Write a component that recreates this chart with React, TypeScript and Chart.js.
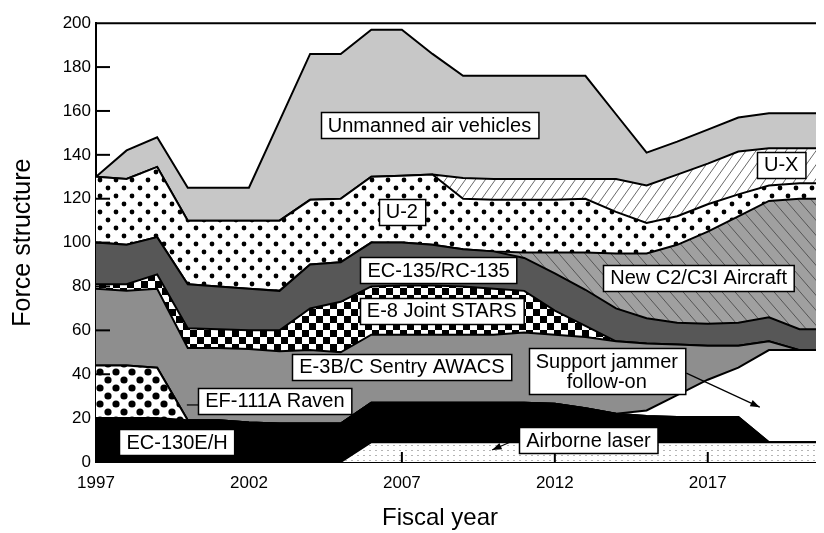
import React, { useEffect, useRef } from 'react';
import { Chart, registerables } from 'chart.js';

Chart.register(...registerables);

const years = [1997, 1998, 1999, 2000, 2001, 2002, 2003, 2004, 2005, 2006, 2007, 2008, 2009, 2010, 2011, 2012, 2013, 2014, 2015, 2016, 2017, 2018, 2019, 2020, 2021];
const tickYears = [1997, 2002, 2007, 2012, 2017];
const yTickValues = [0, 20, 40, 60, 80, 100, 120, 140, 160, 180, 200];

const airborneLaser = [0, 0, 0, 0, 0, 0, 0, 0, 0, 9, 9, 9, 9, 9, 9, 9, 9, 9, 9, 9, 9, 9, 9, 9, 9];
const ec130 = [20, 20, 20, 19, 19, 18, 17.5, 17.5, 17.5, 18, 18, 18, 18, 18, 18, 17.5, 15.5, 13, 12, 11.5, 11.5, 11.5, 0, 0, 0];
const ef111 = [24, 24, 23, 0, 0, 0, 0, 0, 0, 0, 0, 0, 0, 0, 0, 0, 0, 0, 0, 0, 0, 0, 0, 0, 0];
const jammer = [0, 0, 0, 0, 0, 0, 0, 0, 0, 0, 0, 0, 0, 0, 0, 0, 0, 0, 2.5, 10, 17, 22.5, 42, 42, 42];
const e3 = [35, 34, 36, 33, 33, 33.5, 33, 33.5, 32.5, 31, 31, 31, 31, 31, 32, 31.5, 32.5, 33, 30.5, 23, 15.5, 10, 4, 0, 0];
const e8 = [2, 3, 6.5, 9, 8.5, 8.5, 9.5, 19, 23, 22, 22.5, 22.5, 22, 21, 19, 11, 5, 0, 0, 0, 0, 0, 0, 0, 0];
const ec135 = [19, 18, 17, 20, 19.5, 19, 18, 20, 18, 20, 19.5, 18.5, 17, 17, 15, 17, 16.5, 15, 11.5, 10, 10, 10.5, 11, 9.5, 9.5];
const c2 = [0, 0, 0, 0, 0, 0, 0, 0, 0, 0, 0, 0, 0, 0, 2.5, 9.5, 17, 25, 29.5, 35.5, 42, 48.5, 53, 59.5, 59.5];
const u2 = [30, 30, 32, 29, 30, 31, 32, 29.5, 29, 30, 30.5, 32, 23, 23.5, 24, 24, 24.5, 19, 14, 13, 12.5, 10, 7, 7, 7];
const ux = [0, 0, 0, 0, 0, 0, 0, 0, 0, 0, 0, 0, 9.5, 9.5, 9.5, 9.5, 9, 15, 17, 19, 18.5, 19.5, 17, 16, 16];
const uav = [0, 13, 13.5, 15, 15, 15, 45.5, 66.5, 66, 67, 66.5, 55, 46.5, 47, 47, 47, 47, 29.5, 15, 15, 15.5, 15.5, 16, 16, 16];

const seriesNames = ['Airborne laser', 'EC-130E/H', 'EF-111A Raven', 'Support jammer follow-on', 'E-3B/C Sentry AWACS', 'E-8 Joint STARS', 'EC-135/RC-135', 'New C2/C3I Aircraft', 'U-2', 'U-X', 'Unmanned air vehicles'];
const seriesValues = [airborneLaser, ec130, ef111, jammer, e3, e8, ec135, c2, u2, ux, uav];

const labelBoxes = [
  { lines: ['Unmanned air vehicles'], x: 2007.9, y: 153.5 },
  { lines: ['U-2'], x: 2007.0, y: 114 },
  { lines: ['U-X'], x: 2019.4, y: 135.5 },
  { lines: ['EC-135/RC-135'], x: 2008.2, y: 87.5 },
  { lines: ['New C2/C3I Aircraft'], x: 2016.7, y: 84 },
  { lines: ['E-8 Joint STARS'], x: 2008.3, y: 69 },
  { lines: ['E-3B/C Sentry AWACS'], x: 2007.0, y: 43.5 },
  { lines: ['EF-111A Raven'], x: 2002.85, y: 28 },
  { lines: ['EC-130E/H'], x: 1999.65, y: 9 },
  { lines: ['Airborne laser'], x: 2013.1, y: 10 },
  { lines: ['Support jammer', 'follow-on'], x: 2013.7, y: 41.4 },
];

const arrows = [
  { from: [2016.3, 40.5], to: [2018.7, 25], head: true },
  { from: [2010.7, 10], to: [2009.95, 5.5], head: true },
  { from: [1999.97, 26], to: [2000.35, 26], head: false },
];

const xTitle = 'Fiscal year';
const yTitle = 'Force structure';

const FONT = "'Liberation Sans', Arial, Helvetica, sans-serif";

function tile(w: number, h: number, draw: (g: CanvasRenderingContext2D) => void): HTMLCanvasElement {
  const c = document.createElement('canvas');
  c.width = w;
  c.height = h;
  const g = c.getContext('2d') as CanvasRenderingContext2D;
  draw(g);
  return c;
}

function makeFills(ctx: CanvasRenderingContext2D) {
  const pat = (c: HTMLCanvasElement) => ctx.createPattern(c, 'repeat') as CanvasPattern;
  const laser = pat(tile(6, 5, (g) => {
    g.fillStyle = '#ffffff'; g.fillRect(0, 0, 6, 5);
    g.fillStyle = '#b5b5b5'; g.fillRect(1, 2, 2, 1);
  }));
  const dots = (r: number, bg: string) => pat(tile(16, 16, (g) => {
    g.fillStyle = bg; g.fillRect(0, 0, 16, 16);
    g.fillStyle = '#000';
    [[4, 4], [12, 12]].forEach(([x, y]) => { g.beginPath(); g.arc(x, y, r, 0, Math.PI * 2); g.fill(); });
  }));
  const checker = pat(tile(14, 14, (g) => {
    g.fillStyle = '#fff'; g.fillRect(0, 0, 14, 14);
    g.fillStyle = '#000'; g.fillRect(0, 0, 7, 7); g.fillRect(7, 7, 7, 7);
  }));
  const hatchUp = pat(tile(10, 14, (g) => {
    g.fillStyle = '#fff'; g.fillRect(0, 0, 10, 14);
    g.strokeStyle = '#6a6a6a'; g.lineWidth = 1;
    for (let k = -1; k <= 1; k++) { g.beginPath(); g.moveTo(k * 10, 14); g.lineTo(k * 10 + 10, 0); g.stroke(); }
  }));
  const hatchDown = pat(tile(13, 15, (g) => {
    g.fillStyle = '#a0a0a0'; g.fillRect(0, 0, 13, 15);
    g.strokeStyle = '#555555'; g.lineWidth = 1;
    for (let k = -1; k <= 1; k++) { g.beginPath(); g.moveTo(k * 13, 0); g.lineTo(k * 13 + 13, 15); g.stroke(); }
  }));
  return [laser, '#000000', dots(3.6, '#ffffff'), '#ffffff', '#8e8e8e', checker, '#575757', hatchDown, dots(2.4, '#ffffff'), hatchUp, '#c7c7c7'];
}

const decorPlugin = {
  id: 'decor',
  afterDatasetsDraw(chart: any) {
    const { ctx, chartArea, scales } = chart;
    const xs = scales.x;
    const ys = scales.y;
    ctx.save();
    ctx.strokeStyle = '#000';
    ctx.lineWidth = 2;
    ctx.beginPath();
    ctx.moveTo(chartArea.left, chartArea.top);
    ctx.lineTo(chartArea.right, chartArea.top);
    ctx.stroke();
    yTickValues.forEach((v) => {
      if (v === 0 || v === 200) return;
      const py = ys.getPixelForValue(v);
      ctx.beginPath(); ctx.moveTo(chartArea.left, py); ctx.lineTo(chartArea.left + 14, py); ctx.stroke();
    });
    tickYears.forEach((yr) => {
      if (yr === 1997) return;
      const px = xs.getPixelForValue(yr);
      ctx.beginPath(); ctx.moveTo(px, chartArea.bottom); ctx.lineTo(px, chartArea.bottom - 10); ctx.stroke();
    });
    // arrows
    ctx.lineWidth = 1.2;
    ctx.fillStyle = '#000';
    arrows.forEach((a) => {
      const x1 = xs.getPixelForValue(a.from[0]);
      const y1 = ys.getPixelForValue(a.from[1]);
      const x2 = xs.getPixelForValue(a.to[0]);
      const y2 = ys.getPixelForValue(a.to[1]);
      ctx.beginPath(); ctx.moveTo(x1, y1); ctx.lineTo(x2, y2); ctx.stroke();
      if (a.head) {
        const ang = Math.atan2(y2 - y1, x2 - x1);
        const L = 10, W = 0.35;
        ctx.beginPath();
        ctx.moveTo(x2, y2);
        ctx.lineTo(x2 - L * Math.cos(ang - W), y2 - L * Math.sin(ang - W));
        ctx.lineTo(x2 - L * Math.cos(ang + W), y2 - L * Math.sin(ang + W));
        ctx.closePath();
        ctx.fill();
      }
    });
    // label boxes
    ctx.font = `20px ${FONT}`;
    ctx.textAlign = 'center';
    ctx.textBaseline = 'middle';
    labelBoxes.forEach((b) => {
      const cx = xs.getPixelForValue(b.x);
      const cy = ys.getPixelForValue(b.y);
      const w = Math.max(...b.lines.map((t) => ctx.measureText(t).width));
      const lh = 20;
      const bw = w + 14;
      const bh = b.lines.length * lh + 6;
      const bx = Math.round(cx - bw / 2) + 0.5;
      const by = Math.round(cy - bh / 2) + 0.5;
      ctx.fillStyle = '#fff';
      ctx.fillRect(bx, by, bw, bh);
      ctx.lineWidth = 1.5;
      ctx.strokeStyle = '#000';
      ctx.strokeRect(bx, by, bw, bh);
      ctx.fillStyle = '#000';
      b.lines.forEach((t, i) => {
        ctx.fillText(t, cx, cy - ((b.lines.length - 1) * lh) / 2 + i * lh + 1);
      });
    });
    // x axis title
    ctx.font = `24px ${FONT}`;
    ctx.fillText(xTitle, (chartArea.left + chartArea.right) / 2 - 20, chartArea.bottom + 56);
    ctx.restore();
  },
};

export default function App() {
  const ref = useRef<HTMLCanvasElement | null>(null);
  useEffect(() => {
    const canvas = ref.current;
    if (!canvas) return;
    const ctx = canvas.getContext('2d') as CanvasRenderingContext2D;
    const fills = makeFills(ctx);
    const datasets = seriesValues.map((vals, i) => ({
      label: seriesNames[i],
      data: vals.map((v, j) => ({ x: years[j], y: v })),
      backgroundColor: fills[i] as any,
      borderColor: '#000',
      borderWidth: 2,
      pointRadius: 0,
      tension: 0,
      fill: i === 0 ? 'origin' : '-1',
    }));
    const chart = new Chart(canvas, {
      type: 'line',
      data: { datasets },
      options: {
        animation: false,
        responsive: false,
        devicePixelRatio: 1,
        layout: { padding: { top: 14, right: 0, bottom: 0, left: 0 } },
        plugins: { legend: { display: false }, tooltip: { enabled: false } },
        scales: {
          x: {
            type: 'linear',
            min: 1997,
            max: 2020.8,
            grid: { display: false, drawTicks: false },
            border: { display: true, color: '#000', width: 2 },
            afterBuildTicks: (s: any) => { s.ticks = tickYears.map((v) => ({ value: v })); },
            afterFit: (s: any) => { s.height = 71; },
            ticks: { color: '#000', font: { family: FONT, size: 17 }, padding: 11, maxRotation: 0, autoSkip: false, callback: (v: any) => String(v) },
            title: { display: false },
          },
          y: {
            stacked: true,
            min: 0,
            max: 200,
            grid: { display: false, drawTicks: false },
            border: { display: true, color: '#000', width: 2 },
            afterBuildTicks: (s: any) => { s.ticks = yTickValues.map((v) => ({ value: v })); },
            afterFit: (s: any) => { s.width = 88; },
            ticks: { color: '#000', font: { family: FONT, size: 17 }, padding: 5 },
            title: { display: true, text: yTitle, color: '#000', font: { family: FONT, size: 25 }, padding: { top: 0, bottom: 0 } },
          },
        },
      },
      plugins: [decorPlugin],
    } as any);
    return () => chart.destroy();
  }, []);
  return <canvas ref={ref} width={816} height={525} style={{ display: 'block' }} />;
}
